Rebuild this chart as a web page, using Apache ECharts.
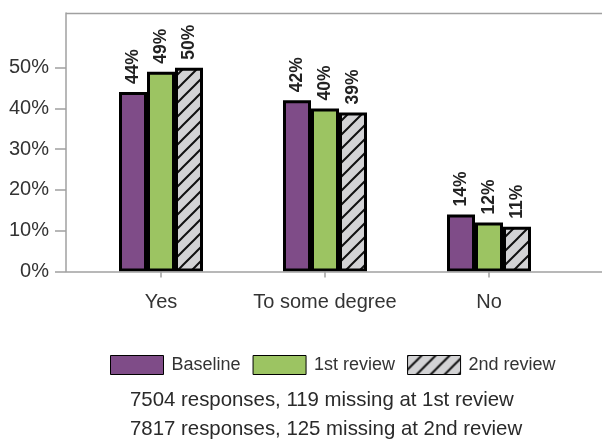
<!DOCTYPE html>
<html>
<head>
<meta charset="utf-8">
<script src="https://cdn.jsdelivr.net/npm/echarts@6/dist/echarts.min.js"></script>
<style>html,body{margin:0;padding:0;background:#fff}#c{width:602px;height:441px}</style>
</head>
<body>
<div id="c"></div>
<script>
var categories = ['Yes', 'To some degree', 'No'];
var baseline = [44, 42, 14];
var review1 = [49, 40, 12];
var review2 = [50, 39, 11];
var yTicks = [0, 10, 20, 30, 40, 50];
var seriesNames = ['Baseline', '1st review', '2nd review'];
var noteLines = ['7504 responses, 119 missing at 1st review', '7817 responses, 125 missing at 2nd review'];

function hatch() {
  var c = document.createElement('canvas');
  var s = 14;
  c.width = s; c.height = s;
  var g = c.getContext('2d');
  g.fillStyle = '#d3d3d5';
  g.fillRect(0, 0, s, s);
  g.strokeStyle = '#111';
  g.lineWidth = 2;
  g.beginPath();
  g.moveTo(-2, s + 2); g.lineTo(s + 2, -2);
  g.moveTo(-2, 2); g.lineTo(2, -2);
  g.moveTo(s - 2, s + 2); g.lineTo(s + 2, s - 2);
  g.stroke();
  return c;
}

var FONT = 'Liberation Sans';
var chart = echarts.init(document.getElementById('c'), null, {renderer: 'canvas'});

var label = {
  show: true, position: 'top', rotate: 90, align: 'left', verticalAlign: 'middle',
  distance: 8, fontFamily: FONT, fontWeight: 'bold', fontSize: 17.5, color: '#222',
  formatter: function (p) { return p.value + '%'; }
};
function mk(name, data, color) {
  return {
    name: name, type: 'bar', data: data, barWidth: 28, barGap: '0%',
    itemStyle: {color: color, borderColor: '#000', borderWidth: 3},
    label: label
  };
}

chart.setOption({
  animation: false,
  textStyle: {fontFamily: FONT},
  grid: {left: 79, right: 31, top: 13, bottom: 169.5, containLabel: false},
  graphic: [
    {type: 'line', shape: {x1: 66, y1: 13.5, x2: 602, y2: 13.5}, style: {stroke: '#a0a0a0', lineWidth: 1.5}, z: 10},
    {type: 'line', shape: {x1: 66, y1: 272, x2: 602, y2: 272}, style: {stroke: '#a0a0a0', lineWidth: 1.5}, z: 10}
  ],
  title: {
    text: noteLines.join('\n'), left: 125, top: 381,
    textStyle: {fontFamily: FONT, fontSize: 20.4, fontWeight: 'normal', color: '#2a2a2a', lineHeight: 29}
  },
  legend: {
    data: seriesNames, left: 105, top: 350, icon: 'rect', itemWidth: 53, itemHeight: 19, itemGap: 12,
    itemStyle: {borderWidth: 1, borderColor: '#000'},
    textStyle: {fontFamily: FONT, fontSize: 18, color: '#333', padding: [0, 0, 0, 3]}
  },
  xAxis: {
    type: 'category', data: categories,
    axisLine: {show: false},
    axisTick: {show: true, alignWithLabel: true, length: 6, lineStyle: {color: '#a0a0a0', width: 1.5}},
    axisLabel: {fontFamily: FONT, fontSize: 20, color: '#333', margin: 21, interval: 0}
  },
  yAxis: {
    type: 'value', min: 0, max: 63.4, interval: 10, offset: 13,
    splitLine: {show: false},
    axisLine: {show: true, lineStyle: {color: '#a0a0a0', width: 1.5}},
    axisTick: {show: true, length: 11, customValues: yTicks, lineStyle: {color: '#a0a0a0', width: 1.5}},
    axisLabel: {fontFamily: FONT, fontSize: 20, color: '#333', margin: 17, customValues: yTicks,
      formatter: function (v) { return v + '%'; }}
  },
  series: [
    mk(seriesNames[0], baseline, '#7f4c88'),
    mk(seriesNames[1], review1, '#9cc462'),
    mk(seriesNames[2], review2, {image: hatch(), repeat: 'repeat'})
  ]
});
</script>
</body>
</html>
